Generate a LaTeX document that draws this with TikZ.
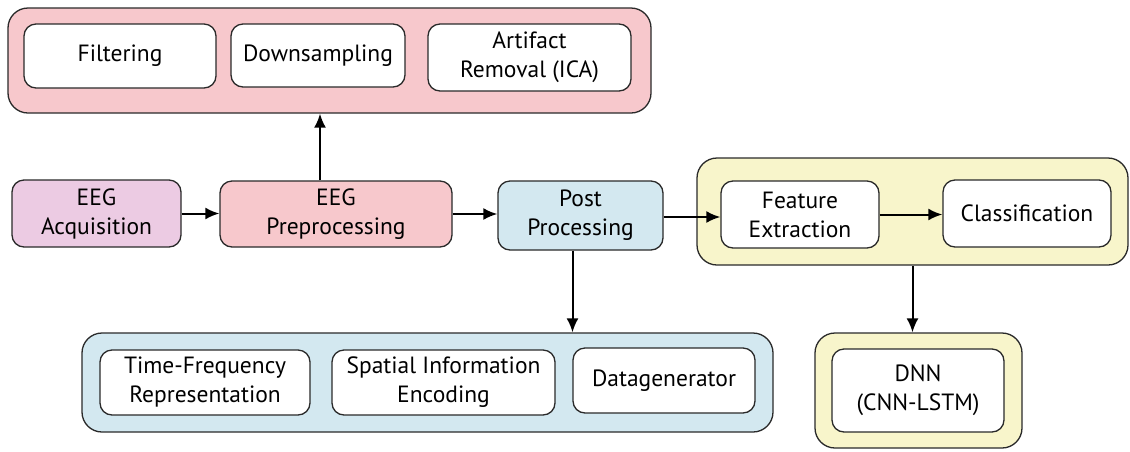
\documentclass[tikz,border=0pt]{standalone}
\usepackage{fontspec}
\setmainfont{PT Sans}
\usetikzlibrary{arrows.meta}
\definecolor{pinkfill}{HTML}{F7C8CC}
\definecolor{mauvefill}{HTML}{ECCBE3}
\definecolor{bluefill}{HTML}{D3E8F0}
\definecolor{yellowfill}{HTML}{F8F5CB}
\definecolor{edge}{HTML}{2A2A2A}
\tikzset{
  group/.style={draw=edge, line width=1.3pt, rounded corners=20pt, inner sep=0pt},
  stage/.style={draw=edge, line width=1.3pt, rounded corners=12pt, align=center,
    inner sep=0pt, font=\fontsize{23.5}{29}\selectfont},
  sub/.style={stage, fill=white},
  flow/.style={line width=2pt, -{Latex[length=14pt,width=12pt]}},
}
\begin{document}
\begin{tikzpicture}[x=1pt, y=-1pt]
\path[use as bounding box] (0,0) rectangle (1130,451);

% preprocessing steps
\node[group, fill=pinkfill, minimum width=643pt, minimum height=105pt] (prep) at (329.5,60.5) {};
\node[sub, minimum width=192pt, minimum height=64pt] (filt) at (120,56) {Filtering};
\node[sub, minimum width=174pt, minimum height=63pt] (down) at (318,55.5) {Downsampling};
\node[sub, minimum width=203pt, minimum height=67pt] (art) at (529.5,57.5) {Artifact\\Removal (ICA)};

% main pipeline
\node[stage, fill=mauvefill, minimum width=169pt, minimum height=67pt] (acq) at (96.5,213.5) {EEG\\Acquisition};
\node[stage, fill=pinkfill, minimum width=232pt, minimum height=66pt] (pre) at (336,214) {EEG\\Preprocessing};
\node[stage, fill=bluefill, minimum width=165pt, minimum height=69pt] (post) at (580.5,215.5) {Post\\Processing};

% feature extraction and classification
\node[group, fill=yellowfill, minimum width=431pt, minimum height=107pt] (fc) at (912.5,211.5) {};
\node[sub, minimum width=158pt, minimum height=67pt] (feat) at (800,214.5) {Feature\\Extraction};
\node[sub, minimum width=168pt, minimum height=67pt] (cls) at (1027,213.5) {Classification};

% post processing steps
\node[group, fill=bluefill, minimum width=691pt, minimum height=99pt] (postg) at (427.5,382.5) {};
\node[sub, minimum width=210pt, minimum height=65pt] (tf) at (205,382.5) {Time-Frequency\\Representation};
\node[sub, minimum width=223pt, minimum height=65pt] (sp) at (443.5,382.5) {Spatial Information\\Encoding};
\node[sub, minimum width=182pt, minimum height=65pt] (dg) at (664,380.5) {Datagenerator};

% network
\node[group, fill=yellowfill, minimum width=207pt, minimum height=115pt] (net) at (918.5,390.5) {};
\node[sub, minimum width=172pt, minimum height=83pt] (dnn) at (918,390.5) {DNN\\(CNN-LSTM)};

% connectors
\draw[flow] (acq.east) -- (acq.east -| pre.west);
\draw[flow] ([xshift=-16pt]pre.north) -- ([xshift=-16pt]pre.north |- prep.south);
\draw[flow] (pre.east) -- (pre.east -| post.west);
\draw[flow] ([yshift=-1.5pt]post.east) -- ([yshift=-1.5pt]post.east -| feat.west);
\draw[flow] (feat.east) -- (feat.east -| cls.west);
\draw[flow] ([xshift=-8pt]post.south) -- ([xshift=-8pt]post.south |- postg.north);
\draw[flow] (fc.south) -- (fc.south |- net.north);
\end{tikzpicture}
\end{document}
